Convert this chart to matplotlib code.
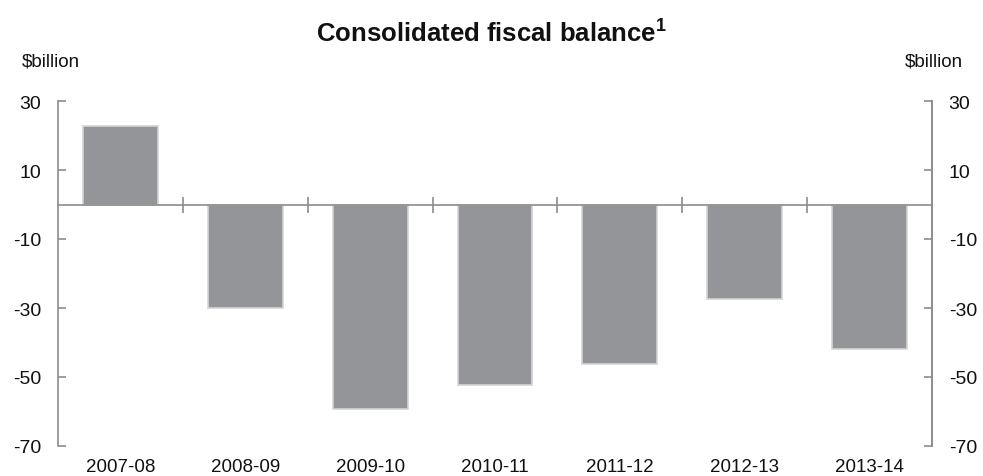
import matplotlib
matplotlib.use("Agg")
import matplotlib.pyplot as plt
import matplotlib.transforms as mtransforms

# consolidated fiscal balance, $billion
years = ["2007-08", "2008-09", "2009-10", "2010-11", "2011-12", "2012-13", "2013-14"]
balance = [22.7, -30.1, -59.3, -52.4, -46.3, -27.5, -41.9]
yticks = [30, 10, -10, -30, -50, -70]

plt.rcParams["font.family"] = ["Liberation Sans", "DejaVu Sans"]
plt.rcParams["axes.unicode_minus"] = False
axis_col = "#8c8c8c"

fig = plt.figure(figsize=(9.83, 4.77), dpi=100)
ax = fig.add_axes([58 / 983, 1 - 447 / 477, 874 / 983, 345 / 477])

x = list(range(len(years)))
ax.bar(x, balance, width=0.6, color="#939598", edgecolor="#d4d4d4", linewidth=1.2, zorder=2)

ax.set_xlim(-0.5, len(years) - 0.5)
ax.set_ylim(-70, 30)

# zero line carries the category dividers
ax.spines["bottom"].set_position(("data", 0))
ax.spines["top"].set_visible(False)
for s in ["bottom", "left", "right"]:
    ax.spines[s].set_color(axis_col)
    ax.spines[s].set_linewidth(1.2)
ax.spines["bottom"].set_zorder(3)

ax.set_xticks([i + 0.5 for i in range(len(years) - 1)])
ax.tick_params(axis="x", direction="inout", length=12, width=1.2, color=axis_col,
               labelbottom=False)

ax.set_yticks(yticks)
ax.tick_params(axis="y", direction="in", length=6, width=1.2, color=axis_col,
               labelsize=14, pad=12, labelcolor="#111111")

ax2 = ax.twinx()
ax2.set_ylim(ax.get_ylim())
ax2.set_yticks(yticks)
for s in ["top", "bottom", "left"]:
    ax2.spines[s].set_visible(False)
ax2.spines["right"].set_color(axis_col)
ax2.spines["right"].set_linewidth(1.2)
ax2.tick_params(axis="y", direction="in", length=6, width=1.2, color=axis_col,
                labelsize=14, pad=12, labelcolor="#111111")

# category names under the plot
trans = mtransforms.blended_transform_factory(ax.transData, ax.transAxes)
for xi, name in zip(x, years):
    ax.text(xi, -0.06, name, transform=trans, ha="center", va="center",
            fontsize=13.5, color="#111111")

fig.text(0.5, 1 - 33 / 477, "Consolidated fiscal balance$^{\\mathregular{1}}$",
         ha="center", va="center", fontsize=18.5, fontweight="bold", color="#111111")
fig.text(22 / 983, 1 - 62 / 477, "$billion", ha="left", va="center",
         fontsize=13.5, color="#111111")
fig.text(963 / 983, 1 - 62 / 477, "$billion", ha="right", va="center",
         fontsize=13.5, color="#111111")

fig.savefig("out.png", dpi=100)
